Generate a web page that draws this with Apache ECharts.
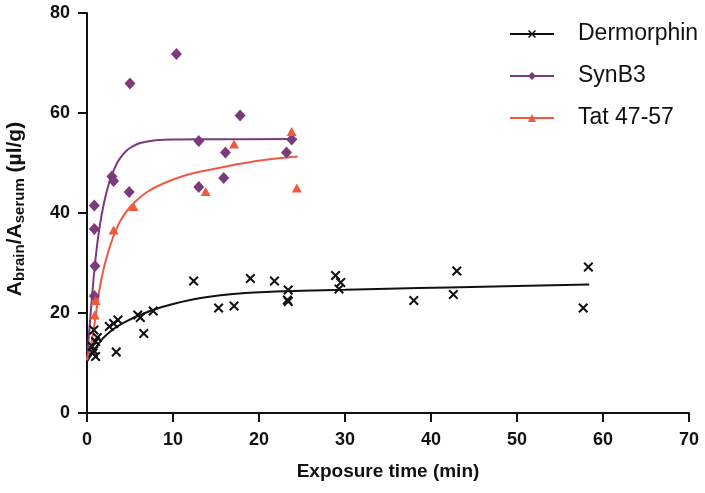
<!DOCTYPE html>
<html><head><meta charset="utf-8">
<script src="https://cdn.jsdelivr.net/npm/echarts@6/dist/echarts.min.js"></script>
<style>html,body{margin:0;padding:0;background:#fff}#c{width:705px;height:493px}</style>
</head><body><div id="c"></div>
<script>
// Measured points [time (min), ratio (µl/g)]
const dermorphinPts = [[0.8,16.6],[1.2,15.1],[1.0,14.3],[0.6,13.3],[0.8,12.5],[1.0,11.3],[0.7,12.0],
  [2.6,17.3],[3.1,17.9],[3.6,18.6],[3.4,12.2],[5.9,19.6],[6.2,19.1],[6.6,15.9],[7.7,20.4],
  [12.4,26.4],[15.3,21.0],[17.1,21.4],[19.0,26.9],[21.8,26.4],[23.4,24.6],[23.3,22.6],[23.4,22.3],
  [28.9,27.5],[29.5,26.1],[29.3,24.8],[38.0,22.5],[43.0,28.4],[42.6,23.7],[58.3,29.2],[57.7,21.0]];
const synb3Pts = [[0.85,41.5],[0.85,36.8],[0.93,29.4],[0.85,23.4],[2.9,47.3],[3.1,46.4],[4.9,44.2],
  [5.0,65.9],[10.4,71.8],[13.0,54.4],[13.0,45.2],[15.9,47.0],[16.1,52.1],[17.8,59.5],[23.2,52.1],[23.8,54.7]];
const tatPts = [[0.9,19.6],[1.0,22.5],[3.1,36.6],[5.4,41.3],[13.8,44.3],[17.1,53.8],[23.8,56.3],[24.4,45.0]];

// Fitted curves
const dermorphinFit = [[0,10.3],[0.5,11.7],[1,13],[1.5,14.2],[2,15.2],[3,16.7],[4,17.8],[5,18.7],[6,19.5],[8,20.8],
  [10,21.8],[12,22.6],[14,23.2],[17,23.8],[20,24.15],[25,24.45],[30,24.65],[35,24.85],[42,25.1],[50,25.4],[58.4,25.7]];
const synb3Fit = [[0,10.5],[0.5,21.5],[1,31],[1.5,37.6],[2,42.2],[2.5,45.6],[3,48.1],[3.5,50],[4,51.3],[4.5,52.3],[5,53],
  [6,53.9],[7,54.3],[8,54.55],[10,54.7],[14,54.75],[24.4,54.8]];
const tatFit = [[0,10.6],[0.5,14],[1,19.3],[1.5,25.2],[2,29.3],[2.5,32.4],[3,35],[3.5,37.1],[4,38.8],[5,41.2],
  [6,42.9],[7,44.2],[8,45.2],[10,46.7],[12,47.8],[15,48.9],[18,49.9],[21,50.7],[24.5,51.3]];

const seriesNames = ['Dermorphin','SynB3','Tat 47-57'];
const xTicks = [0,70,10];
const yTicks = [0,80,20];

const colors = ['#111111','#7b3b7b','#ee5a40'];
const crossPath = 'path://M0,1.4L1.4,0L5,3.6L8.6,0L10,1.4L6.4,5L10,8.6L8.6,10L5,6.4L1.4,10L0,8.6L3.6,5Z';
const symbols = [crossPath,'diamond','triangle'];
const fits = [dermorphinFit, synb3Fit, tatFit];
const pts = [dermorphinPts, synb3Pts, tatPts];
const sizes = [10,[11,12],[10,9]];

const series = [];
for (let i = 0; i < 3; i++) {
  series.push({
    name: seriesNames[i], type: 'line', data: fits[i], smooth: 0.4,
    symbol: symbols[i], showSymbol: false, symbolSize: 8,
    itemStyle: {color: colors[i]}, lineStyle: {color: colors[i], width: 2}, z: 2, silent: true
  });
}
for (let i = 0; i < 3; i++) {
  series.push({
    name: seriesNames[i] + ' data', type: 'scatter', data: pts[i], symbol: symbols[i], symbolSize: sizes[i],
    itemStyle: {color: colors[i], opacity: 1}, z: 3
  });
}

const chart = echarts.init(document.getElementById('c'), null, {renderer: 'canvas'});
const fontFam = '"Liberation Sans", Arial, sans-serif';
chart.setOption({
  animation: false,
  backgroundColor: '#fff',
  grid: {left: 87, right: 16, top: 13, bottom: 80, containLabel: false, outerBoundsMode: 'none'},
  legend: {
    data: seriesNames, orient: 'vertical', left: 504, top: 17, itemWidth: 44, itemHeight: 10, itemGap: 18,
    textStyle: {fontFamily: fontFam, fontSize: 23, lineHeight: 24, color: '#111', padding: [0,0,0,19]}
  },
  xAxis: {
    type: 'value', min: xTicks[0], max: xTicks[1], interval: xTicks[2],
    name: 'Exposure time (min)', nameLocation: 'middle', nameGap: 49,
    nameTextStyle: {fontFamily: fontFam, fontSize: 19, fontWeight: 'bold', color: '#111'},
    axisLine: {lineStyle: {color: '#111', width: 2}},
    axisTick: {show: true, length: 9, lineStyle: {color: '#111', width: 2}},
    axisLabel: {fontFamily: fontFam, fontSize: 18, fontWeight: 'bold', color: '#111', margin: 18},
    splitLine: {show: false}
  },
  yAxis: {
    type: 'value', min: yTicks[0], max: yTicks[1], interval: yTicks[2],
    name: 'A{s|brain}/A{s|serum} (µl/g)', nameLocation: 'middle', nameGap: 60,
    nameTextStyle: {fontFamily: fontFam, fontSize: 21, fontWeight: 'bold', color: '#111', padding: [0,0,0,8],
      rich: {s: {fontFamily: fontFam, fontSize: 15, fontWeight: 'bold', color: '#111', padding: [9,0,0,0]}}},
    axisLine: {show: true, lineStyle: {color: '#111', width: 2}},
    axisTick: {show: true, length: 9, lineStyle: {color: '#111', width: 2}},
    axisLabel: {fontFamily: fontFam, fontSize: 18, fontWeight: 'bold', color: '#111', margin: 17},
    splitLine: {show: false}
  },
  series: series
});
</script></body></html>
